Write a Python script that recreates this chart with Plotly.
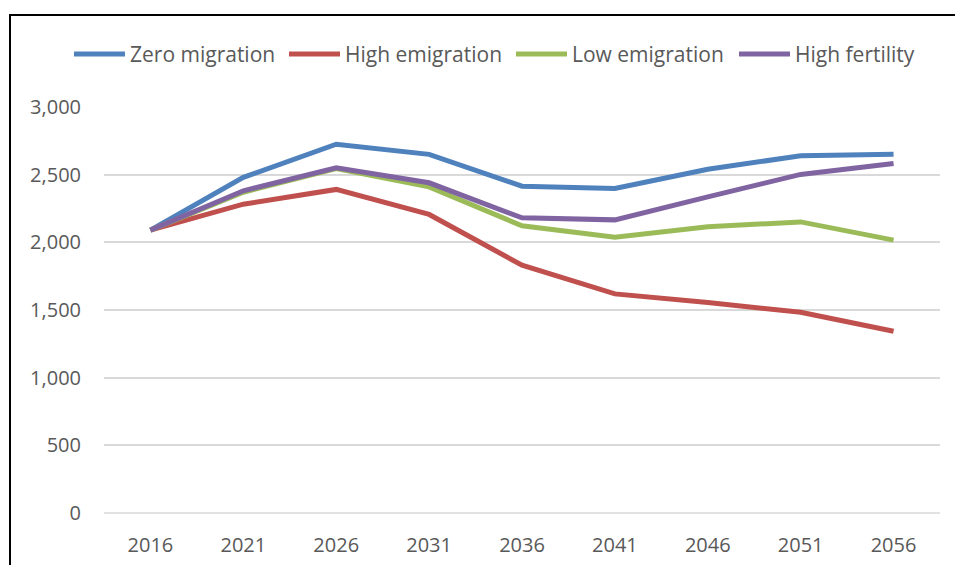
import plotly.graph_objects as go

years = ["2016", "2021", "2026", "2031", "2036", "2041", "2046", "2051", "2056"]

zero_migration = [2090, 2480, 2725, 2650, 2415, 2398, 2540, 2640, 2650]
high_emigration = [2090, 2282, 2391, 2206, 1831, 1619, 1555, 1483, 1343]
low_emigration = [2090, 2370, 2545, 2410, 2122, 2038, 2115, 2151, 2016]
high_fertility = [2090, 2381, 2551, 2440, 2181, 2166, 2336, 2502, 2583]

series = [
    ("Zero migration", zero_migration, "#4F81BD"),
    ("High emigration", high_emigration, "#C0504D"),
    ("Low emigration", low_emigration, "#9BBB59"),
    ("High fertility", high_fertility, "#8064A2"),
]

FONT = "Open Sans"
TXT = "#595959"

# plot area in pixels
W, H = 955, 565
L, R, T, B = 104, 15, 107, 52
PW, PH = W - L - R, H - T - B


def px_x(p):
    return (p - L) / PW


def px_y(p):
    return 1 + (T - p) / PH


fig = go.Figure()
for name, vals, color in series:
    fig.add_trace(go.Scatter(
        x=years, y=vals, name=name, mode="lines",
        line=dict(color=color, width=5),
        showlegend=False,
    ))

# legend row: long line sample followed by the series name
legend_starts = [72, 287, 514, 737]
legend_y = 54
shapes = []
annotations = []
for (name, _, color), x0 in zip(series, legend_starts):
    shapes.append(dict(
        type="line", xref="paper", yref="paper",
        x0=px_x(x0 + 2), x1=px_x(x0 + 53), y0=px_y(legend_y), y1=px_y(legend_y),
        line=dict(color=color, width=5),
    ))
    annotations.append(dict(
        text=name, xref="paper", yref="paper", showarrow=False,
        x=px_x(x0 + 56), y=px_y(legend_y), xanchor="left", yanchor="middle",
        font=dict(family=FONT, size=21, color=TXT),
    ))

shapes.append(dict(type="line", xref="paper", yref="paper", x0=0, x1=1, y0=0, y1=0,
                   line=dict(color="#D9D9D9", width=1.5), layer="below"))
shapes.append(dict(type="rect", xref="paper", yref="paper",
                   x0=px_x(10), x1=1.2, y0=-0.3, y1=px_y(15),
                   line=dict(color="black", width=2), fillcolor="rgba(0,0,0,0)"))

fig.update_layout(
    width=W, height=H,
    margin=dict(l=L, r=R, t=T, b=B, autoexpand=False),
    paper_bgcolor="white", plot_bgcolor="white",
    font=dict(family=FONT, size=20, color=TXT),
    showlegend=False,
    xaxis=dict(
        type="category", range=[-0.5, 8.5],
        showgrid=False, zeroline=False, showline=False, ticks="",
        ticklabelstandoff=18,
        tickfont=dict(family=FONT, size=20, color=TXT),
    ),
    yaxis=dict(
        range=[0, 3000], tickvals=[0, 500, 1000, 1500, 2000, 2500, 3000],
        tickformat=",d",
        showgrid=True, gridcolor="#D9D9D9", gridwidth=1.5,
        zeroline=False, showline=False, ticks="",
        ticklabelstandoff=22,
        tickfont=dict(family=FONT, size=20, color=TXT),
    ),
    shapes=shapes,
    annotations=annotations,
)

fig.write_html("out.html")
